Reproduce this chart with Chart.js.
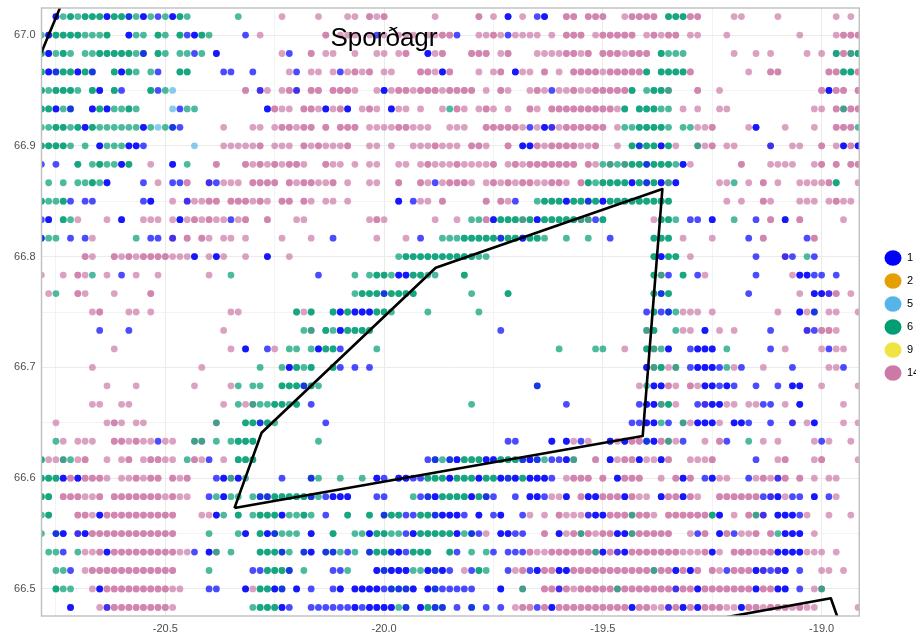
<!DOCTYPE html>
<html><head><meta charset="utf-8">
<style>html,body{margin:0;padding:0;background:#fff}canvas{display:block}</style>
<script src="https://cdn.jsdelivr.net/npm/chart.js@4"></script>
</head><body><canvas id="c" width="923" height="637"></canvas>
<script>
// Survey grid: one minute of latitude/longitude per cell
const firstLon = -20.78333;
const firstLat = 67.01667;
const gridStep = 1 / 60;
const seriesNames = ['1', '2', '5', '6', '9', '14'];
const seriesFill = ['rgba(0,0,255,0.7)', 'rgba(230,159,0,0.7)', 'rgba(86,180,233,0.7)', 'rgba(0,158,115,0.7)', 'rgba(240,228,66,0.7)', 'rgba(204,121,167,0.7)'];
const seriesKey = ['#0000FF', '#E69F00', '#56B4E9', '#009E73', '#F0E442', '#CC79A7'];
// cell codes: lower case = one haul, upper case = two hauls at that cell, t/m/r = two series together
const cellCodes = {b:['1'],B:['1','1'],s:['5'],g:['6'],G:['6','6'],p:['14'],P:['14','14'],t:['1','6'],m:['1','14'],r:['6','14']};
// each row: "startColumn:cells" for one latitude, north to south
const gridRows = [
"2:BgGgGGGBGGtgBgbgBGg 27:g 33:p 38:p 42:pp 45:PpP 54:p 60:P 62:p 64:B 66:p 68:bB 72:PP 75:PPP 80:pPPPP 86:GGGPP 95:pp 101:p 109:p 111:p",
"0:gBGGGGgggG 12:Bgg 16:Gg 19:GbBGg 28:b 30:p 39:P 41:ppp 45:pbp 49:ppp 53:pp 55:PPb 60:ppPpbpppp 70:p 72:PPP 76:pPPPPP 83:pPpPP 89:pp 94:p 104:p 109:pPPP",
"0:GBgGg 6:ggGGGGGgt 16:Gg 19:ggbg 24:B 33:pb 37:P 39:pp 43:p 46:pp 49:pP 53:BpP 59:PPP 63:pP 68:ppppPPpP 77:PPPpPPP 85:Gggg 95:p 98:p 100:p 105:p 107:p 109:GPrG",
"0:GBtGGBGt 10:GBGg 15:gb 19:GG 25:bb 29:b 34:pb 37:pp 40:pbpPpP 47:pp 52:PPpBP 60:p 62:pP 65:Bpp 69:P 71:p 73:PPPPpPPPPPG 85:GGGGP 97:p 100:PP 108:PPGGP",
"0:GgGGGg 7:GB 10:Gb 15:Gbgs 28:P 30:mp 33:pPm 37:PP 40:PPPp 46:pBpPPpPPPpPPPP 61:p 63:Pp 67:pPpbppPp 75:pPPPPPG 83:gGGr 90:P 93:p 107:PBPP 112:P",
"0:GGBgt 7:BGBggGg 18:sbgg 31:BPpp 36:PP 38:p 39:BpPB 44:pPp 48:Bpp 52:p 55:pgPp 60:pPp 64:p 67:Pp 70:PPPPPPPPPpG 82:GGGgg 88:p 90:p 93:pp 106:pp 109:PrPP",
"0:ggGGgGBGggggggBgsgtb 25:p 29:pp 32:pPPpPP 39:P 41:PPP 45:ppppPPppp 56:ppp 61:PPPPPpbpBmpPPP 75:PPP 79:pggGGGGg 88:ggppP 97:pB 102:p 106:p 109:PPPg",
"0:GGGGg 6:g 8:BgggBBb 21:s 25:pppppP 32:ppp 36:PpPpppP 45:pp 48:p 51:pppPppp 59:PPp 64:P 66:BBPpPPPPppP 79:p 81:GtGGBGp 90:rpP 94:pp 100:m 103:pp 107:P 109:pBPB",
"0:b 2:b 5:G 7:gGggBG 15:p 18:B 20:g 24:P 28:PpPpPpPPp 39:Ppp 43:p 45:pp 49:pp 52:pPpppPppppP 64:pPpPPPPPPP 75:PpgrgrGGtGGGgBp 96:P 100:pppp 106:pP 109:P 111:PP",
"1:g 3:g 5:ggGgB 14:b 16:p 18:bbP 23:mbppp 29:PPPP 34:PpPPppP 42:p 45:pp 49:P 52:PpbpPPPp 61:pPpPpPPppPPp 74:P 75:GgGGGGBGtGBrB 93:ppg 97:p 99:P 101:p 104:ppppPG 112:p",
"0:GggGb 6:bb 14:bB 18:p 20:mppPP 26:PPPpPp 33:PP 36:Pp 39:pp 42:p 49:B 51:bpp 55:P 61:P 63:Ppb 68:gGGGBGGtGBGGGGGGGGG 94:p 96:p 99:Pp 104:ppp 108:pPpp",
"0:bB 3:Ggp 9:p 11:B 14:ppp 18:pBpPpPppbpP 31:P 35:pp 45:pPp 54:p 57:p 59:ggPBGGGrGBGGGGGr 75:rbG 84:pGGg 89:bb 92:B 95:g 98:b 100:P 102:B 104:P 110:p",
"0:tgg 4:b 6:bp 13:g 15:bb 18:m 20:P 22:Pp 25:pp 28:p 33:p 37:p 40:b 46:p 50:p 52:b 55:gggGGGGGtGGBGGg 72:g 75:g 78:b 84:GGG 88:p 92:p 97:b 99:P 105:bP",
"6:Pp 10:PpPpPPPPpppB 23:pBp 28:p 31:B 34:p 49:gGGGGGGGGGGgg 84:GBGG 89:p 98:b 102:mb 105:gb",
"0:p 3:p 5:Ppg 9:p 11:b 13:p 16:p 23:p 26:g 38:b 43:g 45:gGGgBBGGgg 58:G 84:Grb 88:G 90:bp 98:b 103:pBBbb 109:b",
"1:pg 5:Pp 10:p 15:P 43:gGGGtGGGG 59:g 64:G 84:GtG 97:b 104:p 106:BBmP 111:p",
"7:pP 12:pp 15:p 26:pp 35:GpG 40:GBGBBBGGg 53:g 60:g 83:bGbtgppp 92:p 101:p 104:Bpt 108:pp 112:p",
"8:b 12:b 25:p 36:gr 39:GgBGGGG 63:b 83:rG 87:gpp 91:B 93:p 95:p 100:b 105:mbPPp",
"10:p 26:p 28:B 31:bp 34:gg 37:gBGGb 46:g 71:g 76:gg 80:p 83:Grg 86:B 89:bBBB 94:g 100:b 102:p 107:pbpp",
"7:p 22:p 30:g 33:gBGgG 40:Gb 43:b 45:b 83:BrGpr 89:bBBBbgpb 99:p 103:b 108:ppb",
"9:p 13:p 21:p 26:pg 29:gg 33:GGGtGg 68:t 82:pgBBPp 89:PpBBbBb 98:b 101:b 103:BB 107:p 112:p",
"7:pp 11:pp 25:p 27:gprggGGgG 37:b 59:g 72:b 82:bBBrGp 90:bmBBpp 97:ppbb 102:p 104:B 110:p",
"2:p 9:pPp 13:pp 24:r 28:GGtGg 39:b 81:bbBBgb 88:rpBBBp 95:BBb 100:b 103:m 105:pB 110:p 112:p",
"2:gp 5:ppp 10:PPpPppbpp 21:rr 24:g 26:gGGG 38:g 64:bb 70:B 72:Bpbp 78:BpBPPtBPrpb 91:p 93:Pb 97:g 99:p 101:p 106:pbp 111:p",
"0:GpprgpP 9:p 11:pP 14:pPPpp 20:gPpb 25:p 27:GGG 53:btgtBGGGBBGGGtBtgbbBr 76:P 78:BpPPBppBP 89:pppP 98:b 101:pP 106:pP 112:p",
"0:GGGBPBPPPp 11:ppPpPP 18:PpP 24:bBrBg 33:b 37:tg 41:g 44:g 46:Bb 49:BBbbGGGBGGGBGGBtBGBBBb 72:pPPP 77:P 79:BPPP 85:p 87:PBP 91:bBpp 97:bpPpmP 104:P 106:p 108:pp",
"0:GG 3:PPPppP 10:PPPPPPPpPpp 23:bgBgg 29:gttGGGGGtgbBBB 46:bb 51:gbtBGGGGBGtb 65:b 67:BBbppB 74:PBBPPPBPpp 85:BPPBPp 93:PPPPPPbmBpbb 106:B 108:bp",
"0:gG 5:PPpBPPPPPPPPPP 22:ppBg 27:G 29:gGGGBggGg 39:b 42:G 45:G 47:tGGbbGGtBBBb 60:B 62:bB 66:bp 69:p 71:Pppp 75:mBBPPPrPPp 86:PPPPPPGB 95:p 97:Prm 101:BBBbp 108:p 111:p",
"0:g 2:tB 5:mBPPPPPPPPPPPP 23:g 27:gB 30:GBtggg 37:B 40:G 43:ggBGGggbBGGGGGBgtbp 63:BBbb 69:P 71:BpPrPpPPBBrPPPPP 89:pbP 93:BPbppP 100:PgBBB 106:p",
"1:ggb 5:gppPB 10:PPPPPPPPPppb 23:Br 26:g 30:GGGtg 36:tB 39:ttgbg 45:tGGtBbGGG 56:Gb 59:g 61:gb 64:bbbPppPPPPP 75:PrBPmBPPPPPPPpppPBp 95:PPPpPPBBBBppp 109:p",
"2:ggb 6:pPPPPPPPPPPPP 23:g 29:bbGGGt 36:g 40:bbg 46:BtBBBggBtBb 58:pbGg 64:bpPbBPPBBPP 75:PPPPPPPPPrPPBPBP 92:PpbPPPBmbmB 104:b 107:pp 110:p",
"2:Ggg 7:pBPPPPPPPPPpp 23:bb 28:BpGGBt 35:B 37:b 40:bB 43:BBBBbtttB 53:Btbbbbb 63:B 66:r 69:PPmPpP 75:PPPPrPPPPPPPmPPBPP 93:PPPPPBPPBB 104:b 106:pr",
"4:B 8:pmPPPPPPPPp 29:gGGGBb 37:bbbbbbBbBBBBgt 52:BGtt 57:b 59:t 61:b 63:b 65:pPPbPBPPPP 75:PPPPPPBPPppmPBPBPPPppBPPpPPPpPpp 112:p"
];
// closed area outlines, lon/lat
const mainAreaLon = [-20.342, -20.280, -19.882, -19.364, -19.409, -20.342];
const mainAreaLat = [66.573, 66.641, 66.790, 66.861, 66.638, 66.573];
const cornerNwLon = [-20.80, -20.735];
const cornerNwLat = [66.9685, 67.030];
const cornerSeLon = [-19.2675, -18.979, -18.958];
const cornerSeLat = [66.471, 66.4916, 66.468];
const xTickMajor = [-20.5, -20, -19.5, -19];
const yTickMajor = [66.5, 66.6, 66.7, 66.8, 66.9, 67];
const titleText = 'Sporðagr';

const points = {};
seriesNames.forEach(n => points[n] = []);
gridRows.forEach((row, r) => {
  row.split(' ').forEach(tok => {
    const [start, cells] = tok.split(':');
    [...cells].forEach((code, i) => {
      const col = +start + i;
      cellCodes[code].forEach(n => points[n].push({x: firstLon + col * gridStep, y: firstLat - r * gridStep}));
    });
  });
});
const outline = (xs, ys) => xs.map((x, i) => ({x, y: ys[i]}));
const lineSet = (xs, ys) => ({label: '', data: outline(xs, ys), showLine: true, pointRadius: 0, borderColor: '#000', borderWidth: 2.6, tension: 0, fill: false, order: 0, borderJoinStyle: 'round'});
const isMajor = (v, list) => list.some(t => Math.abs(t - v) < 1e-6);

const decor = {
  id: 'decor',
  afterLayout(chart) {
    chart.legend.left = 872.5;
    chart.legend.top = 240.5;
  },
  afterDatasetsDraw(chart) {
    const {ctx, chartArea: a} = chart;
    ctx.save();
    ctx.fillStyle = '#000';
    ctx.font = '26px "Liberation Sans"';
    ctx.textBaseline = 'alphabetic';
    ctx.fillText(titleText, 330.5, 46);
    ctx.strokeStyle = '#bfbfbf';
    ctx.lineWidth = 1.4;
    ctx.strokeRect(a.left, a.top, a.right - a.left, a.bottom - a.top);
    ctx.restore();
  }
};

new Chart(document.getElementById('c'), {
  type: 'scatter',
  plugins: [decor],
  data: {
    datasets: seriesNames.map((n, i) => ({
      label: n, data: points[n], backgroundColor: seriesFill[i], pointRadius: 3.4, pointBorderWidth: 0, pointHoverRadius: 3.4, order: 1
    })).concat([
      lineSet(mainAreaLon, mainAreaLat),
      lineSet(cornerNwLon, cornerNwLat),
      lineSet(cornerSeLon, cornerSeLat)
    ])
  },
  options: {
    responsive: false, animation: false,
    layout: {padding: {top: 8, right: 7, left: 0, bottom: 0}},
    plugins: {
      tooltip: {enabled: false},
      title: {display: false},
      legend: {
        position: 'right', align: 'start',
        labels: {
          usePointStyle: true, pointStyle: 'circle', pointStyleWidth: 17, boxHeight: 10.8, padding: 12,
          color: '#000', font: {family: '"Liberation Sans"', size: 11},
          generateLabels: () => seriesNames.map((n, i) => ({text: n, fillStyle: seriesKey[i], strokeStyle: seriesKey[i], lineWidth: 0, pointStyle: 'circle', datasetIndex: i}))
        }
      }
    },
    scales: {
      x: {
        type: 'linear', min: -20.783, max: -18.914,
        afterFit: s => { s.height = 21; s.paddingLeft = 0; s.paddingRight = 0; },
        border: {display: false},
        grid: {drawTicks: false, color: c => isMajor(c.tick.value, xTickMajor) ? '#ebebeb' : '#f3f3f3', lineWidth: 1},
        ticks: {stepSize: 0.25, includeBounds: false, autoSkip: false, maxRotation: 0, padding: 6, color: '#4d4d4d', font: {family: '"Liberation Sans"', size: 11},
          callback: v => isMajor(v, xTickMajor) ? v.toFixed(1) : ''}
      },
      y: {
        type: 'linear', min: 66.4756, max: 67.0244,
        afterFit: s => { s.width = 41.5; s.paddingTop = 0; s.paddingBottom = 0; },
        border: {display: false},
        grid: {drawTicks: false, color: c => isMajor(c.tick.value, yTickMajor) ? '#ebebeb' : '#f3f3f3', lineWidth: 1},
        ticks: {stepSize: 0.05, includeBounds: false, autoSkip: false, padding: 6, color: '#4d4d4d', font: {family: '"Liberation Sans"', size: 11},
          callback: v => isMajor(v, yTickMajor) ? v.toFixed(1) : ''}
      }
    }
  }
});
</script></body></html>
